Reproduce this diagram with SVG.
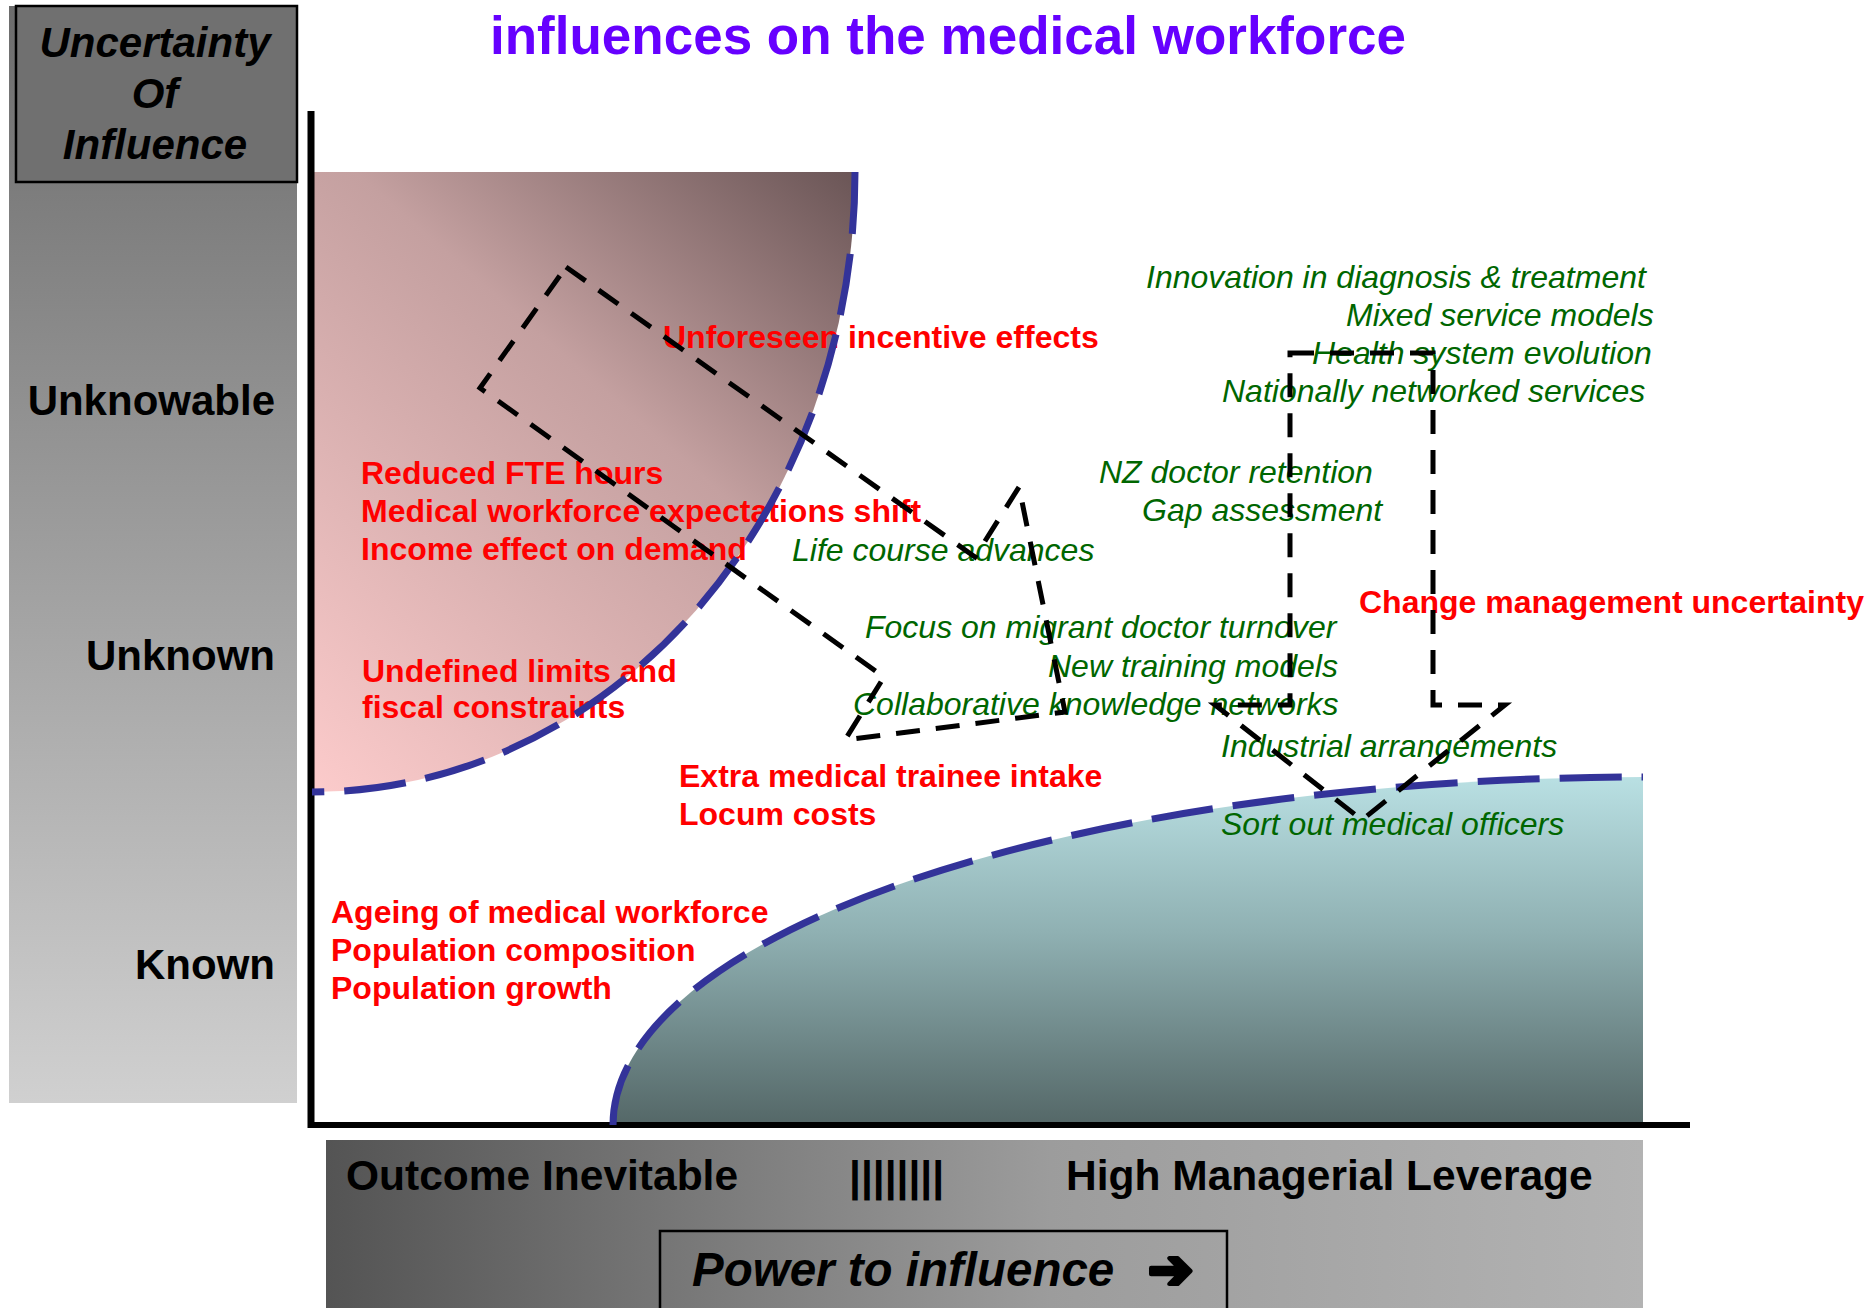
<svg xmlns="http://www.w3.org/2000/svg" width="1868" height="1308" viewBox="0 0 1868 1308">
  <defs>
    <linearGradient id="sideGrad" x1="0" y1="0" x2="0" y2="1">
      <stop offset="0" stop-color="#6c6c6c"/>
      <stop offset="1" stop-color="#d0d0d0"/>
    </linearGradient>
    <linearGradient id="pinkGrad" gradientUnits="userSpaceOnUse" x1="312" y1="792" x2="855" y2="172">
      <stop offset="0" stop-color="#fccbcb"/>
      <stop offset="0.6" stop-color="#c4a0a0"/>
      <stop offset="1" stop-color="#6a5556"/>
    </linearGradient>
    <linearGradient id="tealGrad" x1="0" y1="0" x2="0" y2="1">
      <stop offset="0" stop-color="#b9e0e3"/>
      <stop offset="0.45" stop-color="#8fb0b2"/>
      <stop offset="1" stop-color="#546767"/>
    </linearGradient>
    <linearGradient id="barGrad" x1="0" y1="0" x2="1" y2="0">
      <stop offset="0" stop-color="#545454"/>
      <stop offset="0.55" stop-color="#9c9c9c"/>
      <stop offset="1" stop-color="#b3b3b3"/>
    </linearGradient>
    <style>
      text { font-family: "Liberation Sans", Arial, sans-serif; }
      .title { font-size: 53px; font-weight: bold; fill: #6600ff; }
      .axislbl { font-size: 42px; font-weight: bold; fill: #000; text-anchor: end; }
      .boxlbl { font-size: 42px; font-weight: bold; font-style: italic; fill: #000; text-anchor: middle; }
      .barlbl { font-size: 42.5px; font-weight: bold; fill: #000; }
      .red { font-size: 32px; font-weight: bold; fill: #ff0000; }
      .green { font-size: 32px; font-style: italic; fill: #006600; }
      .rim { fill: none; stroke: #333399; stroke-width: 7; stroke-dasharray: 62 20; }
      .flow { fill: none; stroke: #000; stroke-width: 5; stroke-dasharray: 24 16; stroke-linejoin: miter; }
    </style>
  </defs>

  <rect width="1868" height="1308" fill="#ffffff"/>

  <!-- heading -->
  <text class="title" x="490" y="54">influences on the medical workforce</text>

  <!-- vertical scale panel -->
  <g id="uncertainty-scale">
    <rect x="9" y="6" width="288" height="1097" fill="url(#sideGrad)"/>
    <rect x="16" y="6" width="281" height="176" fill="#707070" stroke="#000" stroke-width="2.5"/>
    <text class="boxlbl" x="155" y="57">Uncertainty</text>
    <text class="boxlbl" x="155" y="108">Of</text>
    <text class="boxlbl" x="155" y="159">Influence</text>
    <text class="axislbl" x="275" y="415">Unknowable</text>
    <text class="axislbl" x="275" y="670">Unknown</text>
    <text class="axislbl" x="275" y="979">Known</text>
  </g>

  <!-- horizontal scale bar -->
  <g id="leverage-scale">
    <rect x="326" y="1140" width="1317" height="168" fill="url(#barGrad)"/>
    <text class="barlbl" x="346" y="1190">Outcome Inevitable</text>
    <text class="barlbl" x="849" y="1191">||||||||</text>
    <text class="barlbl" x="1066" y="1190">High Managerial Leverage</text>
    <rect x="660" y="1231" width="567" height="90" fill="none" stroke="#000" stroke-width="2.5"/>
    <text x="692" y="1286" font-size="47.5" font-weight="bold" font-style="italic" fill="#000">Power to influence</text>
    <text x="1148" y="1288" font-family="DejaVu Sans, sans-serif" font-size="54" font-weight="bold" fill="#000" stroke="#000" stroke-width="2.5" stroke-linejoin="round">➔</text>
  </g>

  <!-- zone fills -->
  <g id="zone-unknowable">
    <path d="M312,172 H855 A543,620 0 0,1 312,792 Z" fill="url(#pinkGrad)"/>
  </g>
  <g id="zone-known">
    <path d="M613,1125 A1030,348 0 0,1 1643,777 V1125 Z" fill="url(#tealGrad)"/>
  </g>

  <!-- axes -->
  <g id="axes" stroke="#000" fill="none">
    <line x1="311" y1="111" x2="311" y2="1128" stroke-width="7"/>
    <line x1="308" y1="1125" x2="1690" y2="1125" stroke-width="6"/>
  </g>

  <!-- influences -->
  <g id="influences-red">
    <text class="red" x="663" y="348">Unforeseen incentive effects</text>
    <text class="red" x="361" y="484">Reduced FTE hours</text>
    <text class="red" x="361" y="522">Medical workforce expectations shift</text>
    <text class="red" x="361" y="560">Income effect on demand</text>
    <text class="red" x="362" y="682">Undefined limits and</text>
    <text class="red" x="362" y="718">fiscal constraints</text>
    <text class="red" x="679" y="787">Extra medical trainee intake</text>
    <text class="red" x="679" y="825">Locum costs</text>
    <text class="red" x="331" y="923">Ageing of medical workforce</text>
    <text class="red" x="331" y="961">Population composition</text>
    <text class="red" x="331" y="999">Population growth</text>
    <text class="red" x="1359" y="613">Change management uncertainty</text>
  </g>
  <g id="influences-green">
    <text class="green" x="1146" y="288">Innovation in diagnosis &amp; treatment</text>
    <text class="green" x="1346" y="326">Mixed service models</text>
    <text class="green" x="1312" y="364">Health system evolution</text>
    <text class="green" x="1222" y="402">Nationally networked services</text>
    <text class="green" x="1099" y="483">NZ doctor retention</text>
    <text class="green" x="1142" y="521">Gap assessment</text>
    <text class="green" x="792" y="561">Life course advances</text>
    <text class="green" x="865" y="638">Focus on migrant doctor turnover</text>
    <text class="green" x="1048" y="677">New training models</text>
    <text class="green" x="853" y="715">Collaborative knowledge networks</text>
    <text class="green" x="1221" y="757">Industrial arrangements</text>
    <text class="green" x="1221" y="835">Sort out medical officers</text>
  </g>

  <!-- zone boundaries -->
  <g id="boundaries">
    <path class="rim" d="M855,172 A543,620 0 0,1 312,792"/>
    <path class="rim" d="M613,1125 A1030,348 0 0,1 1643,777"/>
  </g>

  <!-- dashed block arrows -->
  <g id="connectors">
    <path class="flow" d="M566,267 L975,557 L1019,487 L1065,712 L845,740 L884,677 L480,388 Z"/>
    <path class="flow" d="M1290,353 L1433,353 L1433,705 L1505,705 L1362,820 L1215,705 L1290,705 Z"/>
  </g>
</svg>
